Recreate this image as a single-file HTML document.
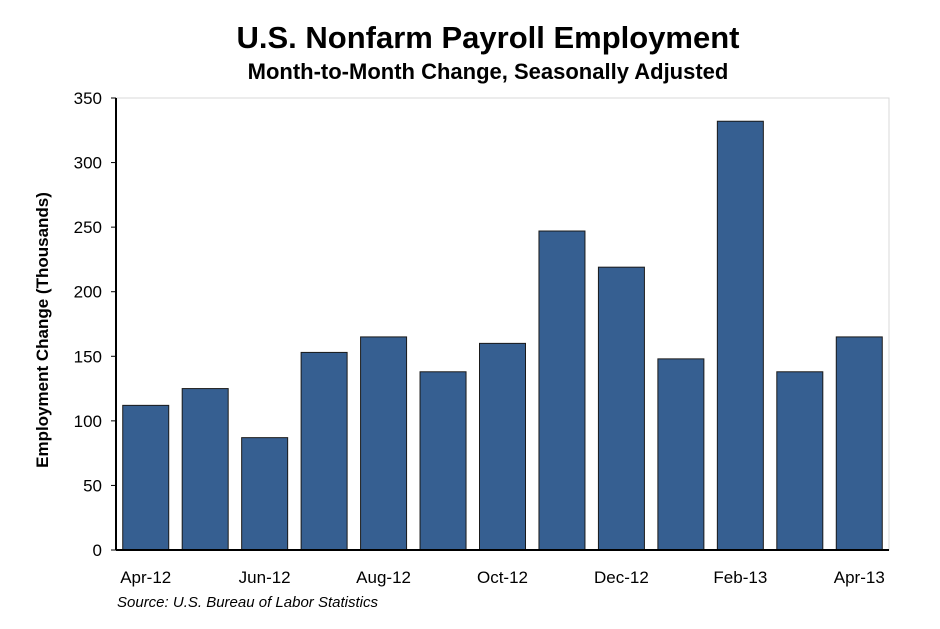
<!DOCTYPE html>
<html><head><meta charset="utf-8"><style>
body{margin:0;background:#fff;}
svg text{font-family:"Liberation Sans",Arial,sans-serif;}
</style></head><body>
<svg id="chart" width="940" height="624" xmlns="http://www.w3.org/2000/svg">
<text x="488" y="48" text-anchor="middle" font-size="31" font-weight="bold">U.S. Nonfarm Payroll Employment</text>
<text x="488" y="79" text-anchor="middle" font-size="22" font-weight="bold">Month-to-Month Change, Seasonally Adjusted</text>
<rect x="116" y="98" width="773" height="452" fill="none" stroke="#d9d9d9" stroke-width="1"/>
<text transform="translate(48,330) rotate(-90)" text-anchor="middle" font-size="17" font-weight="bold">Employment Change (Thousands)</text>
<text x="117" y="607" font-size="15" font-style="italic">Source: U.S. Bureau of Labor Statistics</text>
<g id="bars"></g><g id="axes"></g>
</svg>
<script>
const categories=["Apr-12","May-12","Jun-12","Jul-12","Aug-12","Sep-12","Oct-12","Nov-12","Dec-12","Jan-13","Feb-13","Mar-13","Apr-13"];
const values=[112,125,87,153,165,138,160,247,219,148,332,138,165];
const yTicks=[0,50,100,150,200,250,300,350];
const xLabelIdx=[0,2,4,6,8,10,12];
const NS="http://www.w3.org/2000/svg";
const x0=116,x1=889,yTop=98,yBot=550,yMax=350;
const slot=(x1-x0)/categories.length;
function y(v){return yBot-(v/yMax)*(yBot-yTop);}
function xc(i){return x0+slot*(i+0.5);}
function mk(tag,attrs,parent){const e=document.createElementNS(NS,tag);for(const k in attrs)e.setAttribute(k,attrs[k]);parent.appendChild(e);return e;}
const bars=document.getElementById('bars'),axes=document.getElementById('axes');
values.forEach((v,i)=>{
  const bw=46;
  const r=mk('rect',{x:xc(i)-bw/2,y:y(v),width:bw,height:yBot-y(v),fill:'#365f91',stroke:'#1a1a1a','stroke-width':1},bars);
  
  
});
const ax=mk('line',{x1:x0,y1:yTop,x2:x0,y2:yBot,stroke:'#000','stroke-width':2},axes);


const bx=mk('line',{x1:x0,y1:yBot,x2:x1,y2:yBot,stroke:'#000','stroke-width':2},axes);


yTicks.forEach(t=>{
  const l=mk('line',{x1:x0-5,y1:y(t),x2:x0,y2:y(t),stroke:'#000','stroke-width':1},axes);
  
  
  const tx=mk('text',{x:102,y:y(t)+6,'text-anchor':'end','font-size':17},axes);
  tx.textContent=t;
  
  
});
xLabelIdx.forEach(i=>{
  const tx=mk('text',{x:xc(i),y:583,'text-anchor':'middle','font-size':17},axes);
  tx.textContent=categories[i];
  
  
});
</script>
</body></html>
